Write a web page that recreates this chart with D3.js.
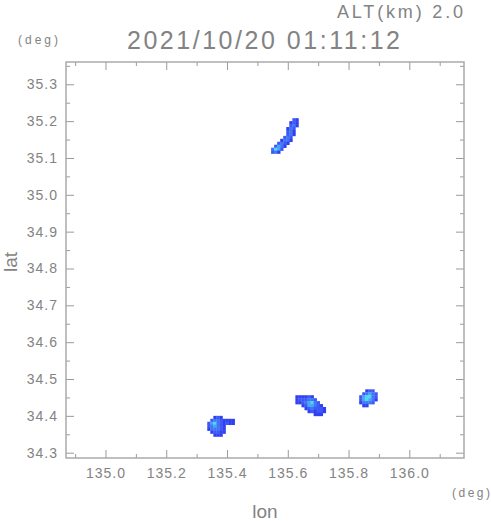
<!DOCTYPE html>
<html>
<head>
<meta charset="utf-8">
<script src="https://cdn.jsdelivr.net/npm/d3@7"></script>
<style>
  body { margin: 0; background: #fff; }
  svg text { font-family: "Liberation Sans", "DejaVu Sans", sans-serif; fill: #838383; }
</style>
</head>
<body>
<svg id="chart" width="491" height="521"></svg>
<script>
// axis ticks (deg)
const lonTicks = [135.0, 135.2, 135.4, 135.6, 135.8, 136.0];
const lonMinor = [134.9, 135.1, 135.3, 135.5, 135.7, 135.9, 136.1];
const latTicks = [34.3, 34.4, 34.5, 34.6, 34.7, 34.8, 34.9, 35.0, 35.1, 35.2, 35.3];
const latMinor = [34.35, 34.45, 34.55, 34.65, 34.75, 34.85, 34.95, 35.05, 35.15, 35.25, 35.35];

// echo cells: each row = [lat, first lon, levels...], lon step 0.01
const cellLon = 0.01, cellLat = 0.008;
const echoNorth = [
    [35.204, 135.62, 2, 1],
    [35.196, 135.61, 1, 2, 1],
    [35.188, 135.61, 2, 3, 1],
    [35.180, 135.60, 1, 3, 2],
    [35.172, 135.60, 2, 3, 1],
    [35.164, 135.60, 2, 3, 1],
    [35.156, 135.59, 2, 3, 2],
    [35.148, 135.58, 1, 3, 3, 1],
    [35.140, 135.57, 2, 3, 2, 1],
    [35.132, 135.56, 2, 4, 3, 1],
    [35.124, 135.55, 3, 5, 4, 2],
    [35.116, 135.55, 2, 3, 1]
];
const echoSouthWest = [
    [34.396, 135.36, 1, 2, 1],
    [34.388, 135.35, 2, 3, 3, 2, 1, 1, 1, 1],
    [34.380, 135.34, 2, 4, 5, 3, 2, 1, 2, 1, 1],
    [34.372, 135.34, 2, 3, 4, 3, 2, 1],
    [34.364, 135.34, 1, 3, 3, 3, 2, 1],
    [34.356, 135.35, 1, 2, 2, 1, 1],
    [34.348, 135.36, 1, 1, 1]
];
const echoSouth = [
    [34.452, 135.63, 1, 1, 1, 1, 2, 1],
    [34.444, 135.63, 1, 2, 2, 2, 3, 3, 2],
    [34.436, 135.63, 1, 1, 2, 3, 4, 5, 3, 2],
    [34.428, 135.65, 1, 2, 4, 4, 3, 2, 1],
    [34.420, 135.66, 1, 2, 3, 2, 2, 2, 1],
    [34.412, 135.67, 1, 2, 1, 2, 2, 1],
    [34.404, 135.69, 1, 1, 1]
];
const echoEast = [
    [34.468, 135.86, 1, 2, 2],
    [34.460, 135.85, 2, 3, 4, 3, 2],
    [34.452, 135.84, 2, 4, 5, 5, 3, 2],
    [34.444, 135.84, 2, 4, 5, 4, 3, 1],
    [34.436, 135.84, 1, 3, 3, 3, 2],
    [34.428, 135.85, 1, 1]
];
const levelColors = ['#3040f0', '#3c58f6', '#3f76f6', '#45a6f5', '#4cd6f0'];

const title = '2021/10/20 01:11:12';
const altLabel = 'ALT(km) 2.0';

const svg = d3.select('#chart');
const plotLeft = 66, plotRight = 464, plotTop = 62, plotBottom = 458;
const grey = '#9a9a9a';

const x = d3.scaleLinear().domain([134.87, 136.18]).range([plotLeft, plotRight]);
const y = d3.scaleLinear().domain([34.2856, 35.3605]).range([plotBottom, plotTop]);

// flatten rows into cells
const cells = [];
[echoNorth, echoSouthWest, echoSouth, echoEast].forEach(rows => {
    rows.forEach(r => {
        r.slice(2).forEach((lv, i) => {
            cells.push({ lat: r[0], lon: r[1] + i * cellLon, level: lv });
        });
    });
});

svg.append('g')
    .selectAll('rect')
    .data(cells)
    .join('rect')
    .attr('x', d => x(d.lon - cellLon / 2))
    .attr('y', d => y(d.lat + cellLat / 2))
    .attr('width', d => x(d.lon + cellLon / 2) - x(d.lon - cellLon / 2) + 0.3)
    .attr('height', d => y(d.lat - cellLat / 2) - y(d.lat + cellLat / 2) + 0.3)
    .attr('fill', d => levelColors[d.level - 1]);

// ticks on all four sides, pointing inward
function drawAxis(axis, transform) {
    const g = svg.append('g').attr('transform', transform).call(axis);
    g.select('.domain').remove();
    g.selectAll('line').attr('stroke', grey);
    g.selectAll('text').attr('fill', '#838383')
        .style('font-size', '14px').style('letter-spacing', '1px');
    return g;
}
drawAxis(d3.axisBottom(x).tickValues(lonTicks).tickSize(-8).tickPadding(10).tickFormat(d3.format('.1f')), `translate(0,${plotBottom})`);
drawAxis(d3.axisBottom(x).tickValues(lonMinor).tickSize(-4).tickFormat(''), `translate(0,${plotBottom})`);
drawAxis(d3.axisTop(x).tickValues(lonTicks).tickSize(-8).tickFormat(''), `translate(0,${plotTop})`);
drawAxis(d3.axisTop(x).tickValues(lonMinor).tickSize(-4).tickFormat(''), `translate(0,${plotTop})`);
drawAxis(d3.axisLeft(y).tickValues(latTicks).tickSize(-8).tickPadding(8).tickFormat(d3.format('.1f')), `translate(${plotLeft},0)`);
drawAxis(d3.axisLeft(y).tickValues(latMinor).tickSize(-4).tickFormat(''), `translate(${plotLeft},0)`);
drawAxis(d3.axisRight(y).tickValues(latTicks).tickSize(-8).tickFormat(''), `translate(${plotRight},0)`);
drawAxis(d3.axisRight(y).tickValues(latMinor).tickSize(-4).tickFormat(''), `translate(${plotRight},0)`);

// frame
svg.append('rect')
    .attr('x', plotLeft).attr('y', plotTop)
    .attr('width', plotRight - plotLeft).attr('height', plotBottom - plotTop)
    .attr('fill', 'none').attr('stroke', '#aaa').attr('stroke-width', 1.5);

// labels
svg.append('text').attr('x', 337).attr('y', 18)
    .attr('textLength', 126).attr('lengthAdjust', 'spacing')
    .style('font-size', '18px').text(altLabel);
svg.append('text').attr('x', 127).attr('y', 49)
    .attr('textLength', 273).attr('lengthAdjust', 'spacing')
    .style('font-size', '25px').text(title);
svg.append('text').attr('x', 18).attr('y', 44)
    .attr('textLength', 40).attr('lengthAdjust', 'spacing')
    .style('font-size', '12px').text('(deg)');
svg.append('text').attr('x', 452).attr('y', 497)
    .attr('textLength', 38).attr('lengthAdjust', 'spacing')
    .style('font-size', '12px').text('(deg)');
svg.append('text').attr('x', 265).attr('y', 518).attr('text-anchor', 'middle')
    .style('font-size', '19px').text('lon');
svg.append('text').attr('transform', 'translate(17,262) rotate(-90)')
    .attr('text-anchor', 'middle').style('font-size', '19px').text('lat');
</script>
</body>
</html>
